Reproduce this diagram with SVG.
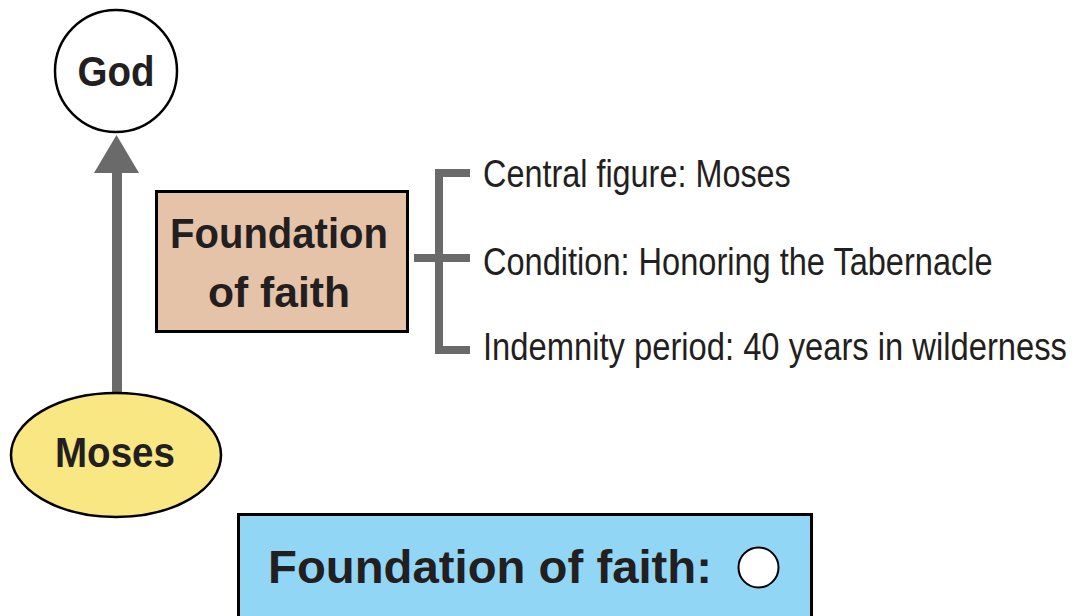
<svg xmlns="http://www.w3.org/2000/svg" width="1077" height="616" viewBox="0 0 1077 616">
  <style>
    .bold { font-family: "Liberation Sans", Arial, sans-serif; font-weight: bold; fill: #231f20; }
    .cond { font-family: "Liberation Sans", Arial, sans-serif; font-size: 38px; fill: #231f20; }
    .line { stroke: #6a6a6a; stroke-width: 8; fill: none; }
  </style>
  <rect width="1077" height="616" fill="#ffffff"/>
  <g id="connectors">
    <rect x="112" y="171" width="10" height="223" fill="#6a6a6a"/>
    <polygon points="116.5,135 139,173 94,173" fill="#6a6a6a"/>
    <path class="line" d="M414,258 H470 M470,173 H439 V350 H470"/>
  </g>
  <g id="god">
    <circle cx="116" cy="71" r="61" fill="#ffffff" stroke="#000" stroke-width="2.5"/>
    <text class="bold" x="116" y="86" font-size="42" text-anchor="middle" textLength="77" lengthAdjust="spacingAndGlyphs">God</text>
  </g>
  <g id="moses">
    <ellipse cx="116" cy="455" rx="105" ry="62" fill="#f9e784" stroke="#000" stroke-width="2.5"/>
    <text class="bold" x="115" y="467" font-size="42" text-anchor="middle" textLength="120" lengthAdjust="spacingAndGlyphs">Moses</text>
  </g>
  <g id="foundation">
    <rect x="156.5" y="191.5" width="251" height="140" fill="#e5c3a9" stroke="#000" stroke-width="3"/>
    <text class="bold" x="279" y="248" font-size="42" text-anchor="middle" textLength="218" lengthAdjust="spacingAndGlyphs">Foundation</text>
    <text class="bold" x="279" y="307" font-size="42" text-anchor="middle" textLength="142" lengthAdjust="spacingAndGlyphs">of faith</text>
  </g>
  <g id="details">
    <text class="cond" transform="translate(483,187) scale(0.855,1)" x="0" y="0" textLength="360" lengthAdjust="spacingAndGlyphs">Central figure: Moses</text>
    <text class="cond" transform="translate(483,275) scale(0.855,1)" x="0" y="0" textLength="596" lengthAdjust="spacingAndGlyphs">Condition: Honoring the Tabernacle</text>
    <text class="cond" transform="translate(483,360) scale(0.855,1)" x="0" y="0" textLength="683" lengthAdjust="spacingAndGlyphs">Indemnity period: 40 years in wilderness</text>
  </g>
  <g id="summary">
    <rect x="238.5" y="514.5" width="573" height="110" fill="#92d6f5" stroke="#000" stroke-width="3"/>
    <text class="bold" x="268" y="583" font-size="46" textLength="444" lengthAdjust="spacingAndGlyphs">Foundation of faith:</text>
    <circle cx="758.5" cy="567.5" r="20" fill="#ffffff" stroke="#000" stroke-width="2"/>
  </g>
</svg>
